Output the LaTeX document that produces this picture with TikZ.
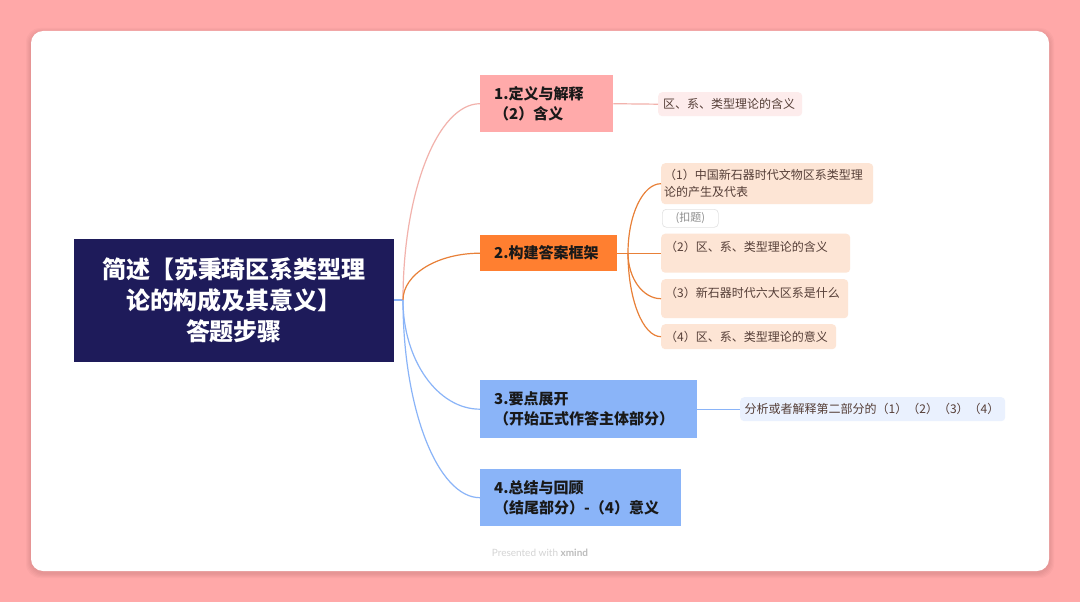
\documentclass[tikz,border=0pt]{standalone}
\usepackage{fontspec}
\setmainfont{Noto Sans CJK SC}
\newfontfamily\footfont{Lato}
\usetikzlibrary{calc}
\definecolor{bgpink}{RGB}{255,168,168}
\definecolor{navy}{RGB}{30,27,90}
\definecolor{pinkbox}{RGB}{255,170,170}
\definecolor{orangebox}{RGB}{255,127,48}
\definecolor{bluebox}{RGB}{138,180,248}
\definecolor{pinkleaf}{RGB}{253,236,236}
\definecolor{peachleaf}{RGB}{253,229,213}
\definecolor{blueleaf}{RGB}{234,241,254}
\definecolor{pinkline}{RGB}{242,178,172}
\definecolor{orangeline}{RGB}{232,128,56}
\definecolor{blueline}{RGB}{138,180,248}
\definecolor{leaftext}{RGB}{85,62,55}
\definecolor{darktext}{RGB}{25,25,25}
\definecolor{labelborder}{RGB}{226,226,226}
\definecolor{labeltext}{RGB}{140,140,140}
\definecolor{foottext}{RGB}{212,212,212}
\definecolor{footbold}{RGB}{188,188,188}
\tikzset{
  rootbox/.style={fill=navy,text=white,font=\bfseries\fontsize{24}{31}\selectfont,align=center,minimum width=320pt,minimum height=123pt,inner sep=0pt},
  branchbox/.style={anchor=north west,text=darktext,font=\bfseries\fontsize{15}{20}\selectfont,align=left,inner xsep=14pt,inner ysep=0pt},
  leafbox/.style={anchor=north west,rounded corners=4pt,text=leaftext,font=\fontsize{12}{17}\selectfont,align=left,inner xsep=4pt,inner ysep=0pt},
  conn/.style={line width=1.2pt},
}
\newcommand\xcurve[3]{\draw[conn,#1] (#2) .. controls ($(#2)!0.55!(#2|-#3)$) and ($(#2|-#3)!0.45!(#3)$) .. (#3);}
\begin{document}
\begin{tikzpicture}[x=1pt,y=-1pt]
\useasboundingbox (0,0) rectangle (1080,602);
\fill[bgpink] (0,0) rectangle (1080,602);
% card shadow
\foreach \i in {1,...,5}{
  \fill[black,opacity=0.018,rounded corners=14pt] (31-\i,31-\i+2) rectangle (1049+\i,571+\i+2);
}
\fill[white,rounded corners=12pt] (31,31) rectangle (1049,571);

% root
\node[rootbox] (root) at (234,300) {简述【苏秉琦区系类型理\\论的构成及其意义】\\答题步骤};
\coordinate (hub) at (403,300);

% branches
\node[branchbox,fill=pinkbox,text width=105pt,minimum height=57pt] (b1) at (480,75) {1.定义与解释\\（2）含义};
\node[branchbox,fill=orangebox,text width=109pt,minimum height=36pt] (b2) at (480,235) {2.构建答案框架};
\node[branchbox,fill=bluebox,text width=189pt,minimum height=58pt] (b3) at (480,380) {3.要点展开\\（开始正式作答主体部分）};
\node[branchbox,fill=bluebox,text width=173pt,minimum height=57pt] (b4) at (480,469) {4.总结与回顾\\（结尾部分）-（4）意义};

% leaves
\node[leafbox,fill=pinkleaf,text width=134pt,minimum height=24pt,inner xsep=5pt] (l1) at (658,92) {区、系、类型理论的含义};
\node[leafbox,fill=peachleaf,text width=206pt,minimum height=41pt,inner xsep=3pt] (l2a) at (661,163) {（1）中国新石器时代文物区系类型理\\论的产生及代表};
\node[draw=labelborder,fill=white,rounded corners=4pt,text=labeltext,font=\fontsize{11}{13}\selectfont,minimum width=56pt,minimum height=18pt,inner sep=0pt,anchor=north west,line width=0.6pt] (kt) at (662,209) {(扣题)};
\node[leafbox,fill=peachleaf,text width=181pt,text height=14.6pt,text depth=18.4pt,inner ysep=3pt] (l2b) at (661,233.5) {（2）区、系、类型理论的含义};
\node[leafbox,fill=peachleaf,text width=179pt,text height=15.6pt,text depth=17.4pt,inner ysep=3pt] (l2c) at (661,279) {（3）新石器时代六大区系是什么};
\node[leafbox,fill=peachleaf,text width=167pt,minimum height=25pt] (l2d) at (661,324) {（4）区、系、类型理论的意义};
\node[leafbox,fill=blueleaf,text width=256pt,minimum height=24pt,inner xsep=4.5pt] (l3) at (740,397) {分析或者解释第二部分的（1）（2）（3）（4）};

% connectors
\draw[conn,blueline] (root.east) -- (hub);
\xcurve{pinkline}{hub}{b1.west}
\xcurve{orangeline}{hub}{b2.west}
\xcurve{blueline}{hub}{b3.west}
\xcurve{blueline}{hub}{b4.west}
\draw[conn,pinkline] (b1.east) -- (l1.west);
\draw[conn,blueline] (b3.east) -- (l3.west);
\coordinate (hub2) at (628,253);
\draw[conn,orangeline] (b2.east) -- (l2b.west);
\xcurve{orangeline}{hub2}{l2a.west}
\xcurve{orangeline}{hub2}{l2c.west}
\xcurve{orangeline}{hub2}{l2d.west}

% footer
\node[text=foottext,font=\footfont\fontsize{10}{12}\selectfont,inner sep=0pt] (footer) at (540,553) {Presented with {\bfseries\color{footbold}xmind}};
\end{tikzpicture}
\end{document}
